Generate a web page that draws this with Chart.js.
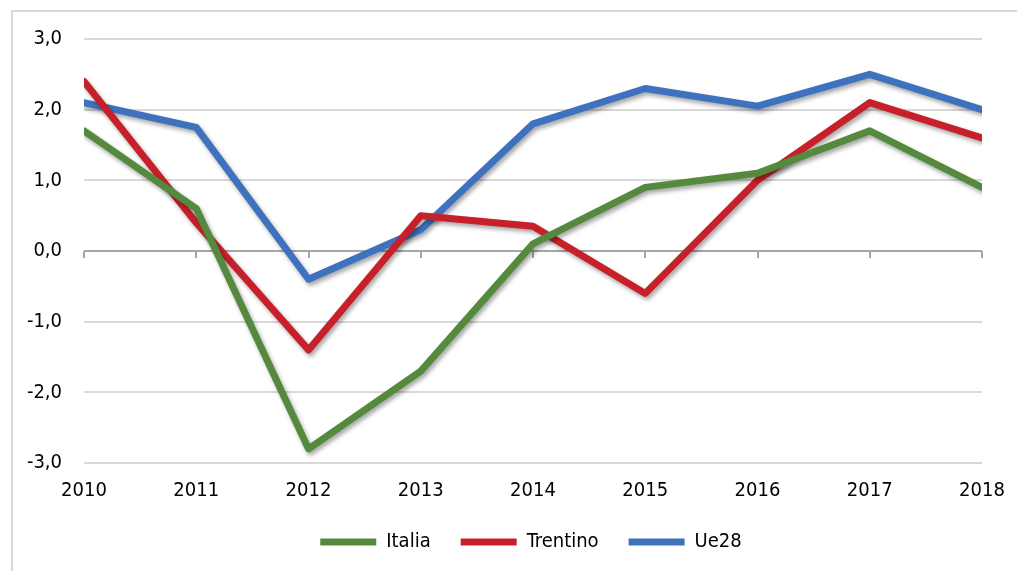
<!DOCTYPE html>
<html>
<head>
<meta charset="utf-8">
<script src="https://cdn.jsdelivr.net/npm/chart.js@4.4.1/dist/chart.umd.min.js"></script>
<style>
  html, body { margin: 0; padding: 0; background: #fff; overflow: hidden; }
</style>
</head>
<body>
<canvas id="grafico" width="1017" height="571"></canvas>
<script>
const anni = ['2010', '2011', '2012', '2013', '2014', '2015', '2016', '2017', '2018'];
const italia = [1.7, 0.6, -2.8, -1.7, 0.1, 0.9, 1.1, 1.7, 0.9];
const trentino = [2.4, 0.4, -1.4, 0.5, 0.35, -0.6, 1.0, 2.1, 1.6];
const ue28 = [2.1, 1.75, -0.4, 0.3, 1.8, 2.3, 2.05, 2.5, 2.0];

const fontFam = '"DejaVu Sans Condensed", "DejaVu Sans", sans-serif';

// cornice del grafico + asse x a quota zero
const cornice = {
  id: 'cornice',
  afterLayout(chart) {
    // legenda spostata un po' a destra come nell'originale
    chart.legend.left += 40;
    chart.legend.right += 40;
  },
  beforeDraw(chart) {
    const ctx = chart.ctx;
    ctx.save();
    ctx.strokeStyle = '#d9d9d9';
    ctx.lineWidth = 2;
    ctx.strokeRect(12, 11, 1100, 700);
    ctx.restore();
  },
  beforeDatasetsDraw(chart) {
    const { ctx, chartArea, scales } = chart;
    const y0 = Math.round(scales.y.getPixelForValue(0));
    ctx.save();
    ctx.strokeStyle = '#a6a6a6';
    ctx.lineWidth = 2;
    ctx.beginPath();
    ctx.moveTo(chartArea.left, y0);
    ctx.lineTo(chartArea.right, y0);
    anni.forEach((a, i) => {
      const x = Math.round(scales.x.getPixelForValue(i));
      ctx.moveTo(x, y0);
      ctx.lineTo(x, y0 + 7);
    });
    ctx.stroke();
    // ombra per le linee
    ctx.shadowColor = 'rgba(0,0,0,0.35)';
    ctx.shadowBlur = 4;
    ctx.shadowOffsetX = 2;
    ctx.shadowOffsetY = 3;
  },
  afterDatasetsDraw(chart) {
    chart.ctx.restore();
  }
};

const serie = (label, data, color) => ({
  label,
  data,
  borderColor: color,
  backgroundColor: color,
  borderWidth: 7,
  borderCapStyle: 'round',
  borderJoinStyle: 'round',
  pointRadius: 0,
  tension: 0,
  clip: 0
});

new Chart(document.getElementById('grafico'), {
  type: 'line',
  data: {
    labels: anni,
    datasets: [
      serie('Italia', italia, '#558a3e'),
      serie('Trentino', trentino, '#c8202a'),
      serie('Ue28', ue28, '#3e72bf')
    ]
  },
  options: {
    responsive: false,
    animation: false,
    devicePixelRatio: 1,
    layout: { padding: { top: 39, right: 35, bottom: 9, left: 0 } },
    scales: {
      x: {
        grid: { display: false, drawTicks: false },
        border: { display: false },
        ticks: { color: '#000', font: { family: fontFam, size: 20 }, padding: 16, maxRotation: 0 },
        afterFit(s) { s.height = 39; s.paddingRight = 0; s.paddingLeft = 0; }
      },
      y: {
        min: -3, max: 3,
        grid: { color: '#d9d9d9', lineWidth: 2, drawTicks: false },
        border: { display: false },
        ticks: {
          stepSize: 1,
          color: '#000',
          padding: 22,
          font: { family: fontFam, size: 20 },
          callback: v => v.toFixed(1).replace('.', ',')
        },
        afterFit(s) { s.width = 84; }
      }
    },
    plugins: {
      legend: {
        position: 'bottom',
        labels: {
          usePointStyle: true,
          pointStyle: 'line',
          pointStyleWidth: 56,
          boxHeight: 20,
          padding: 30,
          color: '#000',
          font: { family: fontFam, size: 20 }
        }
      },
      tooltip: { enabled: false }
    }
  },
  plugins: [cornice]
});
</script>
</body>
</html>
